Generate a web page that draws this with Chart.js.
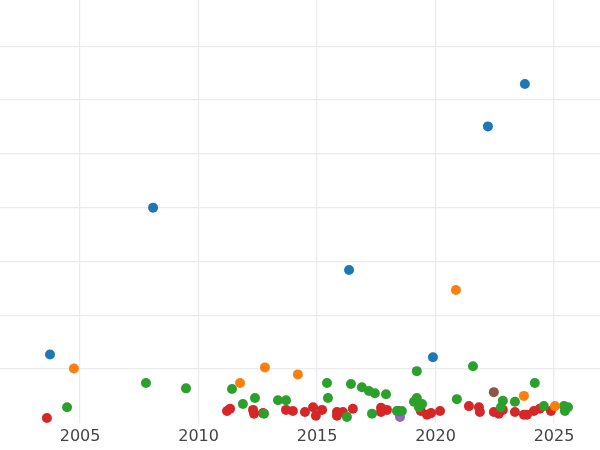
<!DOCTYPE html>
<html><head><meta charset="utf-8">
<script src="https://cdn.jsdelivr.net/npm/chart.js@4"></script>
<style>html,body{margin:0;padding:0;background:#fff}#w{width:600px;height:450px}</style>
</head><body><div id="w"><canvas id="c"></canvas></div>
<script>
const blueX=[2003.73,2008.08,2016.35,2019.89,2022.21,2023.77];
const blueY=[1.27,4.00,2.84,1.22,5.51,6.30];
const orangeX=[2004.74,2011.75,2012.80,2014.19,2020.86,2023.73,2025.04];
const orangeY=[1.01,0.74,1.03,0.90,2.47,0.50,0.31];
const greenX=[2004.45,2007.78,2009.47,2011.41,2011.87,2012.38,2012.76,2013.35,2013.69,2015.42,2015.46,2016.43,2016.26,2016.89,2017.19,2017.44,2017.32,2017.91,2018.37,2018.58,2019.21,2019.09,2019.21,2019.43,2019.30,2020.90,2021.58,2022.84,2022.76,2023.35,2024.19,2024.57,2025.42,2025.59,2025.46];
const greenY=[0.29,0.74,0.64,0.63,0.35,0.46,0.17,0.42,0.42,0.74,0.46,0.72,0.11,0.66,0.59,0.55,0.17,0.53,0.22,0.22,0.96,0.39,0.46,0.35,0.29,0.44,1.05,0.41,0.29,0.39,0.74,0.31,0.31,0.29,0.22];
const redX=[2003.60,2011.20,2011.33,2012.30,2012.34,2012.72,2013.69,2013.98,2014.49,2014.83,2014.95,2015.21,2015.84,2015.84,2016.09,2016.51,2017.70,2017.70,2017.95,2018.41,2019.38,2019.64,2019.81,2020.19,2021.41,2021.83,2021.87,2022.46,2022.67,2022.84,2023.35,2023.73,2023.86,2024.15,2024.40,2024.87];
const redY=[0.09,0.22,0.26,0.24,0.17,0.18,0.24,0.22,0.20,0.29,0.13,0.24,0.20,0.13,0.20,0.26,0.28,0.20,0.24,0.22,0.22,0.15,0.18,0.22,0.31,0.29,0.20,0.20,0.17,0.24,0.20,0.15,0.15,0.22,0.26,0.22];
const purpleX=[2018.50], purpleY=[0.11];
const brownX=[2022.46], brownY=[0.57];
const xTicks=[2005,2010,2015,2020,2025];
function pts(xs,ys){return xs.map((x,i)=>({x:x,y:ys[i]}));}
function ds(xs,ys,c){return {data:pts(xs,ys),backgroundColor:c,borderColor:c,pointRadius:5,pointHoverRadius:5,borderWidth:0,clip:false};}
new Chart(document.getElementById('c'),{type:'scatter',
data:{datasets:[ds(blueX,blueY,'#1f77b4'),ds(orangeX,orangeY,'#ff7f0e'),ds(greenX,greenY,'#2ca02c'),ds(redX,redY,'#d62728'),ds(purpleX,purpleY,'#9467bd'),ds(brownX,brownY,'#8c564b')]},
options:{responsive:true,maintainAspectRatio:false,animation:false,
layout:{padding:0,autoPadding:false},
plugins:{legend:{display:false},tooltip:{enabled:false}},
scales:{
x:{type:'linear',min:2001.62,max:2026.94,afterBuildTicks:a=>{a.ticks=xTicks.map(v=>({value:v}));},
grid:{color:'#ebebeb',lineWidth:1.2,drawTicks:false},border:{display:false},
ticks:{color:'#444',font:{family:'DejaVu Sans',size:16},padding:4,maxRotation:0,callback:v=>String(v)}},
y:{min:0,max:7.86,afterBuildTicks:a=>{a.ticks=[1,2,3,4,5,6,7].map(v=>({value:v}));},
grid:{color:'#ebebeb',lineWidth:1.2,drawTicks:false},border:{display:false},ticks:{display:false}}
}}});
</script></body></html>
